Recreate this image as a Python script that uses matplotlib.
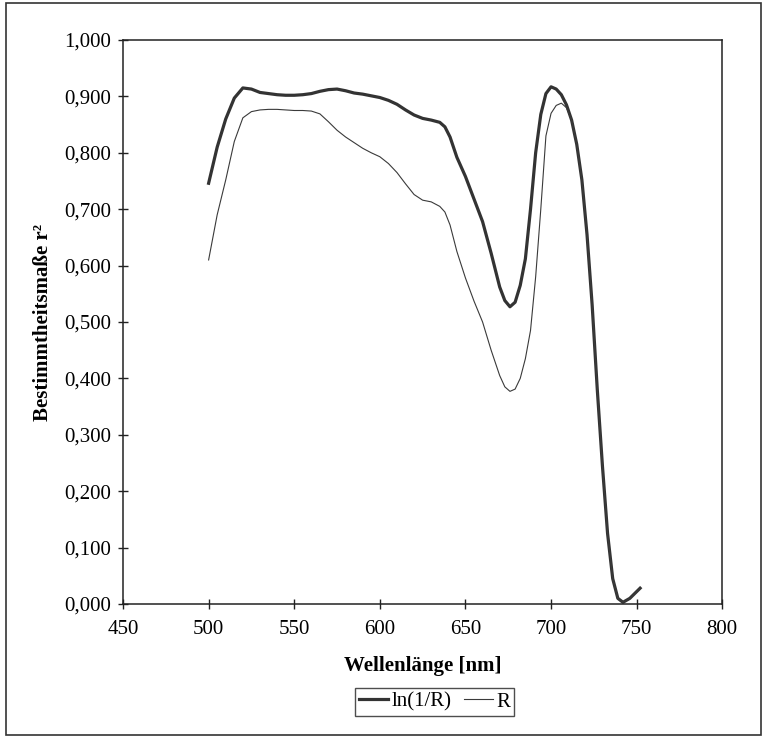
import matplotlib.pyplot as plt
from matplotlib.patches import Rectangle
from matplotlib.ticker import FuncFormatter

# Wavelengths (nm)
wavelengths = [500, 505, 510, 515, 520, 525, 530, 535, 540, 545, 550, 555, 560,
               565, 570, 575, 580, 585, 590, 595, 600, 605, 610, 615, 620, 625,
               630, 635, 638, 641, 645, 650, 655, 660, 665, 670, 673, 676, 679,
               682, 685, 688, 691, 694, 697, 700, 703, 706, 709, 712, 715, 718,
               721, 724, 727, 730, 733, 736, 739, 742, 746, 750, 752]

# r^2 for ln(1/R) (thick line)
r2_ln_inv_r = [0.746, 0.810, 0.860, 0.897, 0.915, 0.913, 0.907, 0.905, 0.903,
               0.902, 0.902, 0.903, 0.905, 0.909, 0.912, 0.913, 0.910, 0.906,
               0.904, 0.901, 0.898, 0.893, 0.886, 0.876, 0.867, 0.861, 0.858,
               0.854, 0.846, 0.828, 0.792, 0.758, 0.718, 0.678, 0.622, 0.562,
               0.538, 0.527, 0.535, 0.565, 0.612, 0.700, 0.800, 0.868, 0.905,
               0.917, 0.913, 0.903, 0.885, 0.858, 0.815, 0.752, 0.655, 0.530,
               0.380, 0.245, 0.125, 0.045, 0.010, 0.003, 0.010, 0.022, 0.028]

# r^2 for R (thin line)
r2_r = [0.610, 0.690, 0.752, 0.820, 0.862, 0.873, 0.876, 0.877, 0.877, 0.876,
        0.875, 0.875, 0.874, 0.869, 0.855, 0.840, 0.828, 0.818, 0.808, 0.800,
        0.793, 0.781, 0.765, 0.745, 0.726, 0.716, 0.713, 0.705, 0.695, 0.672,
        0.625, 0.578, 0.537, 0.500, 0.450, 0.405, 0.385, 0.377, 0.381, 0.400,
        0.435, 0.485, 0.580, 0.700, 0.830, 0.870, 0.884, 0.888, 0.880, 0.858,
        0.815, 0.752, 0.655, 0.530, 0.380, 0.245, 0.125, 0.045, 0.010, 0.003,
        0.010, 0.022, 0.028]

x_ticks = [450, 500, 550, 600, 650, 700, 750, 800]
y_ticks = [0.0, 0.1, 0.2, 0.3, 0.4, 0.5, 0.6, 0.7, 0.8, 0.9, 1.0]

plt.rcParams['font.family'] = ['Liberation Serif', 'DejaVu Serif']
plt.rcParams['font.size'] = 15

fig = plt.figure(figsize=(7.64, 7.38), dpi=100)
ax = fig.add_axes([0.161, 0.1816, 0.7844, 0.7642])

# Curves
ax.plot(wavelengths, r2_ln_inv_r, color='#333333', lw=2.3, label='ln(1/R)')
ax.plot(wavelengths, r2_r, color='#3a3a3a', lw=0.8, label='R')

# Axes styling
ax.set_xlim(450, 800)
ax.set_ylim(0, 1)
ax.set_xticks(x_ticks)
ax.set_yticks(y_ticks)
ax.yaxis.set_major_formatter(FuncFormatter(lambda v, p: f"{v:.3f}".replace('.', ',')))
ax.tick_params(axis='both', direction='inout', length=7, width=1.0, color='#222222')
ax.tick_params(axis='y', pad=5)
ax.tick_params(axis='x', pad=8)
for side in ax.spines.values():
    side.set_linewidth(1.1)
    side.set_color('#222222')

ax.set_xlabel('Wellenlänge [nm]', fontweight='bold', labelpad=12)
ax.set_ylabel('Bestimmtheitsmaße r²', fontweight='bold')
ax.yaxis.set_label_coords(-0.117, 0.5)

# Legend below the axes
fig.legend(loc='center', bbox_to_anchor=(0.569, 0.049), ncol=2, frameon=True,
           fancybox=False, edgecolor='#222222', handlelength=1.4,
           handletextpad=0.15, columnspacing=0.6, borderpad=0.2,
           borderaxespad=0, fontsize=15)
fig.legends[0].get_frame().set_linewidth(1.0)

# Outer frame around the whole chart
fig.patches.append(Rectangle((6 / 764, 3 / 738), 755 / 764, 732 / 738,
                             transform=fig.transFigure, fill=False,
                             edgecolor='#333333', lw=1.2))

plt.savefig('out.png', dpi=100)
